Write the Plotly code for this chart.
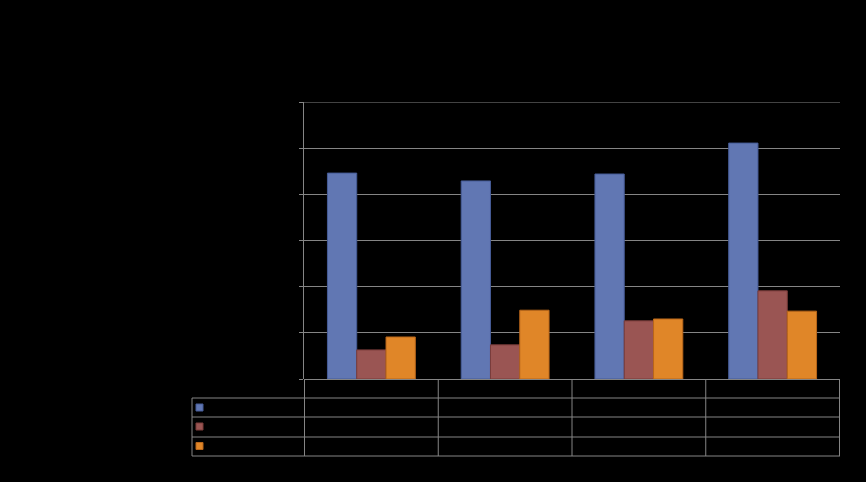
import plotly.graph_objects as go

W, H = 866, 482
categories = ["1", "2", "3", "4"]
series_names = ["Series 1", "Series 2", "Series 3"]
series1 = [44.6, 42.9, 44.4, 51.1]
series2 = [6.3, 7.4, 12.6, 19.1]
series3 = [9.1, 14.9, 13.0, 14.7]
fills = ["#6177B3", "#9A5553", "#E08628"]
edges = ["#465C97", "#7A3C3A", "#B8661A"]
y_max = 60

fig = go.Figure()
for name, vals, fc, ec in zip(series_names, [series1, series2, series3], fills, edges):
    fig.add_trace(go.Bar(x=categories, y=vals, name=name,
                         marker=dict(color=fc, line=dict(color=ec, width=1))))

def py(y):
    return 1 - y / H

def px(x):
    return x / W

grid = "#858585"
x0, x1 = 304, 840
y_top, y_zero = 102, 379
shapes = []
# top gridline (at the range max)
shapes.append(dict(type="line", xref="paper", yref="y", x0=px(300), x1=px(x1),
                   y0=y_max, y1=y_max, line=dict(color=grid, width=1)))
# table horizontal lines
for yy in [398, 417, 437, 456]:
    shapes.append(dict(type="line", xref="paper", yref="paper", x0=px(192), x1=px(x1),
                       y0=py(yy), y1=py(yy), line=dict(color=grid, width=1)))
# table vertical lines
shapes.append(dict(type="line", xref="paper", yref="paper", x0=px(192), x1=px(192),
                   y0=py(398), y1=py(456), line=dict(color=grid, width=1)))
for i in range(len(categories) + 1):
    shapes.append(dict(type="line", xref="x", yref="paper", x0=i - 0.5, x1=i - 0.5,
                       y0=py(y_zero), y1=py(456), line=dict(color=grid, width=1)))
# legend keys
for k, (fc, ec) in enumerate(zip(fills, edges)):
    yc = [407.5, 426.5, 446][k]
    shapes.append(dict(type="rect", xref="paper", yref="paper", x0=px(196), x1=px(203),
                       y0=py(yc + 3.5), y1=py(yc - 3.5), fillcolor=fc,
                       line=dict(color=ec, width=1)))

fig.update_layout(
    width=W, height=H, margin=dict(l=0, r=0, t=0, b=0),
    paper_bgcolor="black", plot_bgcolor="black",
    barmode="group", bargap=0.343, bargroupgap=0.0,
    showlegend=False, shapes=shapes,
    xaxis=dict(domain=[px(x0), px(x1)], showticklabels=False, showgrid=False,
               showline=False, zeroline=False, ticks=""),
    yaxis=dict(domain=[py(y_zero), py(y_top)], range=[0, y_max], dtick=10,
               showticklabels=False, showgrid=True, gridcolor=grid, gridwidth=1,
               zeroline=True, zerolinecolor=grid, zerolinewidth=1,
               showline=True, linecolor=grid, linewidth=1,
               ticks="outside", ticklen=4, tickcolor=grid),
)
fig.write_html("out.html")
